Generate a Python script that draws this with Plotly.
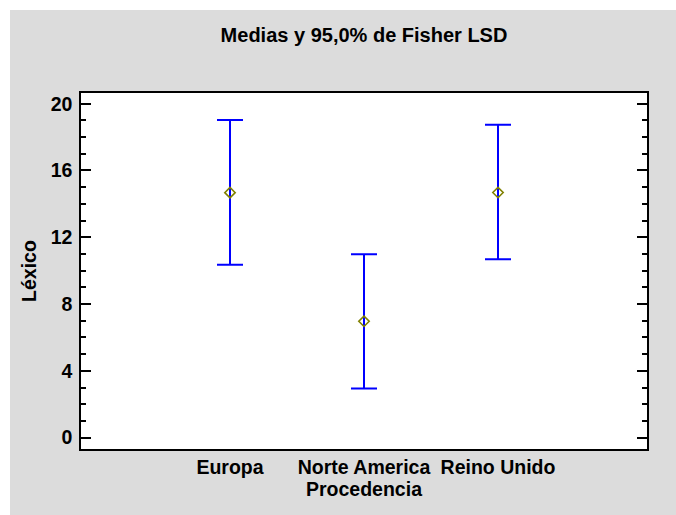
import plotly.graph_objects as go

categories = ["Europa", "Norte America", "Reino Unido"]
means = [14.67, 6.97, 14.68]
lower = [10.35, 2.94, 10.69]
upper = [19.02, 10.99, 18.74]
y_ticks = [0, 4, 8, 12, 16, 20]

W, H = 676, 515
ML, MR, MT, MB = 81, 29, 93, 66
PW, PH = W - ML - MR, H - MT - MB

err_plus = [u - m for u, m in zip(upper, means)]
err_minus = [m - l for m, l in zip(means, lower)]

FONT = "Arial, Liberation Sans, sans-serif"
FS = 19.5

fig = go.Figure()
fig.add_trace(go.Scatter(
    x=categories, y=means, mode="markers",
    marker=dict(symbol="diamond-open", size=8, color="#808000", line=dict(width=1.6, color="#808000")),
    error_y=dict(type="data", symmetric=False, array=err_plus, arrayminus=err_minus,
                 color="#0000ff", thickness=2, width=13),
    showlegend=False,
))

def px2x(p):
    return (p - ML) / PW

def px2y(p):
    return (H - MB - p) / PH

gray = "#dcdcdc"
shapes = [
    dict(type="rect", xref="paper", yref="paper", x0=px2x(0), x1=px2x(W), y0=px2y(10), y1=px2y(0),
         fillcolor="white", line=dict(width=0), layer="below"),
    dict(type="rect", xref="paper", yref="paper", x0=px2x(0), x1=px2x(10), y0=px2y(H), y1=px2y(0),
         fillcolor="white", line=dict(width=0), layer="below"),
]

fig.update_layout(
    width=W, height=H,
    margin=dict(l=ML, r=MR, t=MT, b=MB, pad=0),
    paper_bgcolor=gray, plot_bgcolor="white",
    shapes=shapes,
    title=dict(text="Medias y 95,0% de Fisher LSD", x=(ML + PW / 2) / W, xanchor="center",
               y=1 - 35 / H, yanchor="middle", yref="container",
               font=dict(family=FONT, size=20, weight="bold", color="black")),
    xaxis=dict(
        type="category", range=[-1.112, 3.112],
        showgrid=False, zeroline=False, showline=True, linecolor="black", linewidth=1.5, mirror=True,
        ticks="", tickfont=dict(family=FONT, size=FS, weight="bold", color="black"),
        title=dict(text="Procedencia", font=dict(family=FONT, size=FS, weight="bold", color="black"), standoff=5),
    ),
    yaxis=dict(
        range=[-0.68, 20.64], tickvals=y_ticks, ticktext=[str(v) for v in y_ticks],
        showgrid=False, zeroline=False, showline=True, linecolor="black", linewidth=1.5, mirror="ticks",
        ticks="inside", ticklen=10, tickwidth=1.5, tickcolor="black", ticklabelstandoff=3,
        minor=dict(ticks="inside", ticklen=5, tickwidth=1.5, tickcolor="black", dtick=1, showgrid=False),
        tickfont=dict(family=FONT, size=FS, weight="bold", color="black"),
        title=dict(text="Léxico", font=dict(family=FONT, size=FS, weight="bold", color="black"), standoff=9),
    ),
)

fig.write_html(
    "out.html",
    config={"displayModeBar": False},
    post_script="document.body.style.margin='0';document.body.style.overflow='hidden';",
)
